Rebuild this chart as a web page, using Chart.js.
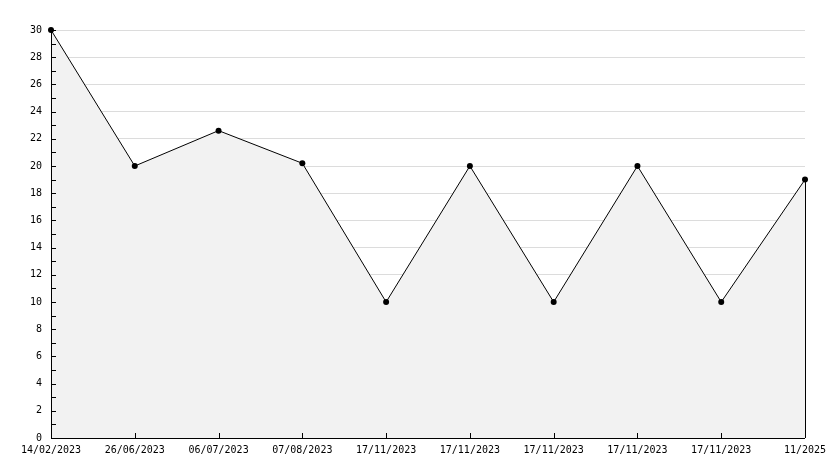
<!DOCTYPE html>
<html><head><meta charset="utf-8">
<script src="https://cdn.jsdelivr.net/npm/chart.js@4/dist/chart.umd.min.js"></script>
<style>html,body{margin:0;padding:0;background:#fff}#wrap{width:834px;height:468px}</style>
</head><body><div id="wrap"><canvas id="c" width="834" height="468"></canvas></div>
<script>
const categories = ["14/02/2023","26/06/2023","06/07/2023","07/08/2023","17/11/2023","17/11/2023","17/11/2023","17/11/2023","17/11/2023","11/2025"];
const values = [30, 20, 22.6, 20.2, 10, 20, 10, 20, 10, 19];
const yMin = 0, yMax = 30, yStep = 1, yLabelStep = 2;

const innerTicks = {
  id: 'innerTicks',
  afterDatasetsDraw(chart) {
    const {ctx, chartArea: a, scales: {x, y}} = chart;
    ctx.save();
    ctx.strokeStyle = '#000';
    ctx.lineWidth = 1;
    ctx.beginPath();
    for (let v = yMin; v <= yMax; v += yStep) {
      const py = Math.round(y.getPixelForValue(v)) + 0.5;
      ctx.moveTo(a.left, py); ctx.lineTo(a.left + 5, py);
    }
    categories.forEach((c, i) => {
      const px = Math.round(x.getPixelForValue(i)) + 0.5;
      ctx.moveTo(px, a.bottom); ctx.lineTo(px, a.bottom - 5);
    });
    // right edge of fill
    const last = values.length - 1;
    const lx = Math.round(x.getPixelForValue(last)) + 0.5;
    ctx.moveTo(lx, y.getPixelForValue(values[last]));
    ctx.lineTo(lx, a.bottom);
    // axes
    ctx.moveTo(Math.round(a.left) + 0.5, a.top);
    ctx.lineTo(Math.round(a.left) + 0.5, a.bottom);
    ctx.moveTo(a.left, Math.round(a.bottom) + 0.5);
    ctx.lineTo(a.right, Math.round(a.bottom) + 0.5);
    ctx.stroke();
    // redraw points on top
    const meta = chart.getDatasetMeta(0);
    ctx.fillStyle = '#000';
    meta.data.forEach(p => { ctx.beginPath(); ctx.arc(p.x, p.y, 3, 0, Math.PI*2); ctx.fill(); });
    ctx.restore();
  }
};

new Chart(document.getElementById('c'), {
  type: 'line',
  data: {
    labels: categories,
    datasets: [{
      data: values,
      borderColor: '#000',
      borderWidth: 1,
      backgroundColor: '#f2f2f2',
      fill: 'origin',
      tension: 0,
      pointRadius: 0,
      pointHoverRadius: 0
    }]
  },
  options: {
    responsive: false,
    animation: false,
    events: [],
    layout: {padding: {left: 0, right: 29, top: 30, bottom: 0}},
    plugins: {legend: {display: false}, tooltip: {enabled: false}},
    scales: {
      x: {
        offset: false,
        grid: {display: false, drawTicks: false},
        border: {display: false},
        ticks: {font: {family: 'DejaVu Sans Mono', size: 10}, color: '#000', maxRotation: 0, autoSkip: false, padding: 6},
        afterFit(s) { s.height = 30; }
      },
      y: {
        min: yMin, max: yMax,
        grid: {
          color: ctx => (ctx.tick && ctx.tick.value % yLabelStep === 0 && ctx.tick.value !== 0) ? '#dcdcdc' : 'rgba(0,0,0,0)',
          drawTicks: false
        },
        border: {display: false},
        ticks: {
          stepSize: yStep,
          font: {family: 'DejaVu Sans Mono', size: 10}, color: '#000', padding: 9,
          callback: v => v % yLabelStep === 0 ? String(v) : ''
        },
        afterFit(s) { s.width = 51; }
      }
    }
  },
  plugins: [innerTicks]
});
</script></body></html>
